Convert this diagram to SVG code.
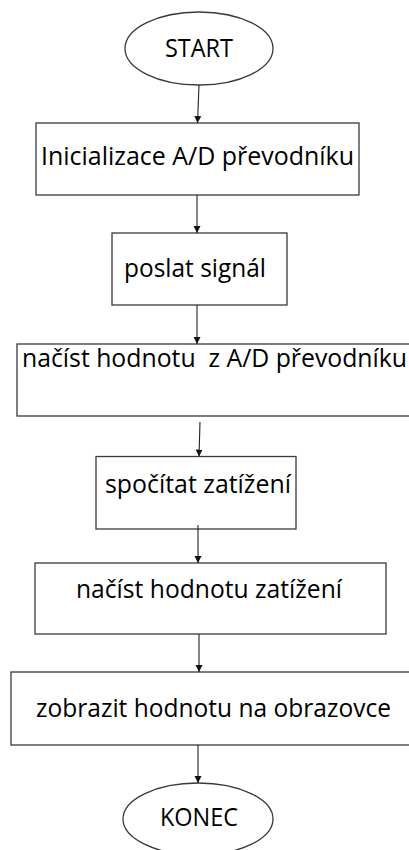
<svg xmlns="http://www.w3.org/2000/svg" width="409" height="850" viewBox="0 0 409 850">
<style>
.shape{fill:#fff;stroke:#3a3a3a;stroke-width:1.3}
.lbl{font-family:"Open Sans","Noto Sans",sans-serif;font-size:25px;fill:#000;white-space:pre}
.conn{stroke:#222;stroke-width:1.1;fill:none;marker-end:url(#ah)}
</style>
<defs>
<marker id="ah" viewBox="0 0 10 10" refX="10" refY="5" markerWidth="7" markerHeight="8" markerUnits="userSpaceOnUse" orient="auto">
<path d="M0,0 L10,5 L0,10 z" fill="#111"/>
</marker>
</defs>
<rect width="409" height="850" fill="#fff"/>
<g id="start">
<ellipse class="shape" cx="199" cy="48.5" rx="74" ry="36.5"/>
<text class="lbl" x="165" y="57" textLength="68" lengthAdjust="spacingAndGlyphs">START</text>
</g>
<g id="n1">
<rect class="shape" x="36" y="123" width="323" height="72"/>
<text class="lbl" x="41" y="165" textLength="313" lengthAdjust="spacingAndGlyphs">Inicializace A/D převodníku</text>
</g>
<g id="n2">
<rect class="shape" x="112" y="233" width="175" height="72"/>
<text class="lbl" x="124" y="277" textLength="142" lengthAdjust="spacingAndGlyphs">poslat signál</text>
</g>
<g id="n3">
<rect class="shape" x="17" y="344" width="400" height="72"/>
<text class="lbl" x="22" y="367" textLength="385" lengthAdjust="spacingAndGlyphs" xml:space="preserve">načíst hodnotu  z A/D převodníku</text>
</g>
<g id="n4">
<rect class="shape" x="96" y="456.5" width="200" height="72.5"/>
<text class="lbl" x="105" y="493" textLength="186" lengthAdjust="spacingAndGlyphs">spočítat zatížení</text>
</g>
<g id="n5">
<rect class="shape" x="35" y="563" width="351" height="71"/>
<text class="lbl" x="76" y="598" textLength="266" lengthAdjust="spacingAndGlyphs">načíst hodnotu zatížení</text>
</g>
<g id="n6">
<rect class="shape" x="11" y="672" width="406" height="73"/>
<text class="lbl" x="36" y="717" textLength="355" lengthAdjust="spacingAndGlyphs">zobrazit hodnotu na obrazovce</text>
</g>
<g id="end">
<ellipse class="shape" cx="198" cy="819" rx="75" ry="36"/>
<text class="lbl" x="160" y="826" textLength="78" lengthAdjust="spacingAndGlyphs">KONEC</text>
</g>
<g id="connectors">
<line class="conn" x1="199" y1="85" x2="197.5" y2="123"/>
<line class="conn" x1="197" y1="195" x2="197" y2="233"/>
<line class="conn" x1="197" y1="305" x2="197" y2="344"/>
<line class="conn" x1="200" y1="422" x2="199" y2="456.5"/>
<line class="conn" x1="198" y1="525" x2="198" y2="563"/>
<line class="conn" x1="199" y1="634" x2="199" y2="672"/>
<line class="conn" x1="198" y1="745" x2="198" y2="783"/>
</g>
</svg>
